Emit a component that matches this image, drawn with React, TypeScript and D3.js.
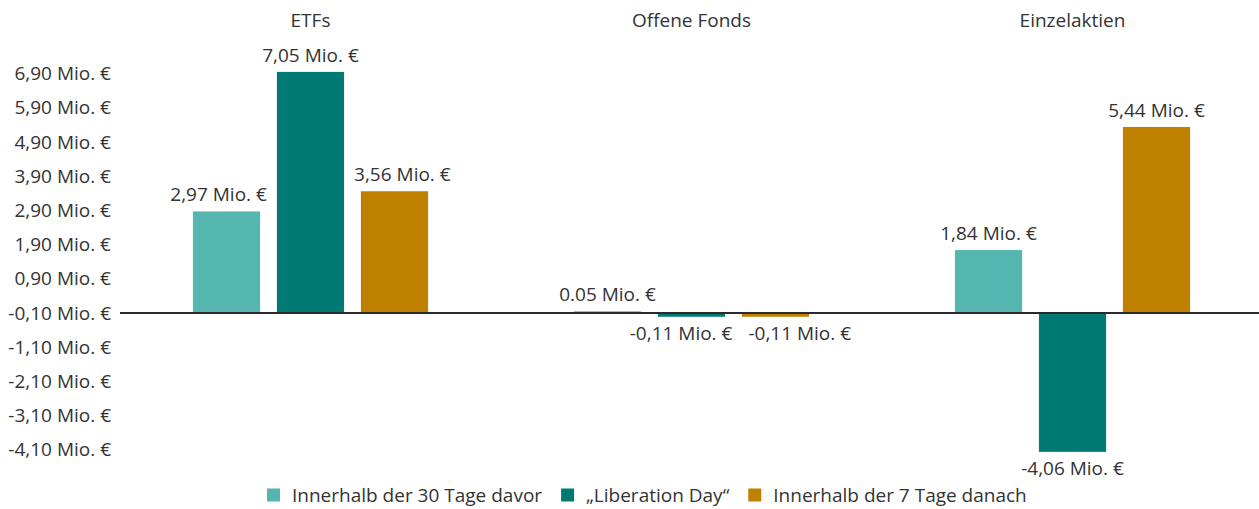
import React, { useEffect, useRef } from "react";
import * as d3 from "d3";

// Fund flow categories and the three observation windows
const categories = ["ETFs", "Offene Fonds", "Einzelaktien"];
const seriesNames = [
  "Innerhalb der 30 Tage davor",
  "\u201ELiberation Day\u201C",
  "Innerhalb der 7 Tage danach",
];
const seriesColors = ["#55B6B0", "#007A73", "#BF8000"];

// Net flows in Mio. € per category
const before30 = [2.97, 0.05, 1.84];
const liberationDay = [7.05, -0.11, -4.06];
const after7 = [3.56, -0.11, 5.44];

// Value labels as printed on the bars
const before30Labels = ["2,97 Mio. €", "0.05 Mio. €", "1,84 Mio. €"];
const liberationDayLabels = ["7,05 Mio. €", "-0,11 Mio. €", "-4,06 Mio. €"];
const after7Labels = ["3,56 Mio. €", "-0,11 Mio. €", "5,44 Mio. €"];

// Y-axis gridpoints and their printed labels
const yTickValues = [-4, -3, -2, -1, 0, 1, 2, 3, 4, 5, 6, 7];
const yTickLabels = [
  "-4,10 Mio. €",
  "-3,10 Mio. €",
  "-2,10 Mio. €",
  "-1,10 Mio. €",
  "-0,10 Mio. €",
  "0,90 Mio. €",
  "1,90 Mio. €",
  "2,90 Mio. €",
  "3,90 Mio. €",
  "4,90 Mio. €",
  "5,90 Mio. €",
  "6,90 Mio. €",
];

const W = 1259;
const H = 509;
const FONT = "'Open Sans', sans-serif";
const FS = 19;
const TEXT = "#333333";

export default function App() {
  const ref = useRef<SVGSVGElement>(null);

  useEffect(() => {
    const svg = d3.select(ref.current as SVGSVGElement);
    svg.selectAll("*").remove();

    const seriesValues = [before30, liberationDay, after7];
    const seriesLabels = [before30Labels, liberationDayLabels, after7Labels];

    const plotLeft = 120;
    const x0 = d3.scaleBand<string>().domain(categories).range([plotLeft, 1263]);
    const x1 = d3
      .scaleBand<string>()
      .domain(seriesNames)
      .range([64.5, 316.5])
      .paddingInner(0.2)
      .paddingOuter(0.1);
    const y = d3.scaleLinear().domain([-5, 8]).range([484, 39.4]);

    const root = svg
      .append("g")
      .attr("font-family", FONT)
      .attr("font-size", FS)
      .attr("fill", TEXT);

    // Y axis labels
    const yAxis = d3
      .axisLeft(y)
      .tickValues(yTickValues)
      .tickSize(0)
      .tickPadding(0)
      .tickFormat((_d, i) => yTickLabels[i]);
    const ga = root.append("g").attr("transform", `translate(111,0)`).call(yAxis);
    ga.select(".domain").remove();
    ga.selectAll("text")
      .attr("font-family", FONT)
      .attr("font-size", FS)
      .attr("fill", TEXT);

    // Category titles
    root
      .selectAll("text.cat")
      .data(categories)
      .join("text")
      .attr("class", "cat")
      .attr("x", (d) => (x0(d) as number) + x0.bandwidth() / 2)
      .attr("y", 27)
      .attr("text-anchor", "middle")
      .text((d) => d);

    // Bars
    type Item = { cat: string; ci: number; si: number; v: number; label: string };
    const items: Item[] = [];
    categories.forEach((c, ci) =>
      seriesNames.forEach((s, si) =>
        items.push({ cat: c, ci, si, v: seriesValues[si][ci], label: seriesLabels[si][ci] })
      )
    );

    const bw = x1.bandwidth();
    const barX = (d: Item) => (x0(d.cat) as number) + (x1(seriesNames[d.si]) as number);
    const barTop = (d: Item) => y(Math.max(0, d.v));
    const barBottom = (d: Item) => y(Math.min(0, d.v));
    const labelY = (d: Item) => (d.v >= 0 ? y(d.v) - 10 : y(d.v) + 23);

    root
      .append("g")
      .selectAll("rect")
      .data(items)
      .join("rect")
      .attr("x", barX)
      .attr("width", bw)
      .attr("y", barTop)
      .attr("height", (d) => barBottom(d) - barTop(d))
      .attr("fill", (d) => seriesColors[d.si]);

    // Zero line
    root
      .append("line")
      .attr("x1", plotLeft)
      .attr("x2", W)
      .attr("y1", y(0))
      .attr("y2", y(0))
      .attr("stroke", "#2b2b2b")
      .attr("stroke-width", 2);

    // Value labels: kept clear of neighbouring bars and of each other
    const lbl = root
      .append("g")
      .selectAll("text")
      .data(items)
      .join("text")
      .attr("text-anchor", "middle")
      .attr("x", (d) => barX(d) + bw / 2)
      .attr("y", labelY)
      .text((d) => d.label);

    const widths = new Map<Item, number>();
    lbl.each(function (d) {
      widths.set(d, (this as SVGTextElement).getComputedTextLength());
    });
    const centers = new Map<Item, number>();
    items.forEach((d) => centers.set(d, barX(d) + bw / 2));

    const pad = 10;
    items.forEach((d) => {
      const top = labelY(d) - FS * 0.75;
      const bottom = labelY(d) + FS * 0.05;
      const w = widths.get(d)!;
      items
        .filter((o) => o.cat === d.cat && o !== d)
        .forEach((o) => {
          if (bottom < barTop(o) || top > barBottom(o)) return;
          const c = centers.get(d)!;
          const left = c - w / 2;
          const right = c + w / 2;
          const bl = barX(o);
          const br = bl + bw;
          if (right + pad <= bl || left - pad >= br) return;
          if (c < bl + bw / 2) centers.set(d, bl - pad - w / 2);
          else centers.set(d, br + pad + w / 2);
        });
    });

    const gap = 16;
    categories.forEach((c) => {
      const grp = items.filter((d) => d.cat === c).sort((a, b) => a.si - b.si);
      for (let k = 1; k < grp.length; k++) {
        const a = grp[k - 1];
        const b = grp[k];
        if (Math.abs(labelY(a) - labelY(b)) >= FS) continue;
        const need = (widths.get(a)! + widths.get(b)!) / 2 + gap;
        const have = centers.get(b)! - centers.get(a)!;
        if (have < need) {
          const shift = (need - have) / 2;
          centers.set(a, centers.get(a)! - shift * 0.6);
          centers.set(b, centers.get(b)! + shift * 1.4);
        }
      }
    });
    lbl.attr("x", (d) => centers.get(d)!);

    // Legend
    const legend = root.append("g").attr("transform", "translate(267,495)");
    let lx = 0;
    seriesNames.forEach((s, i) => {
      legend
        .append("rect")
        .attr("x", lx)
        .attr("y", -6.5)
        .attr("width", 13)
        .attr("height", 13)
        .attr("fill", seriesColors[i]);
      const t = legend
        .append("text")
        .attr("x", lx + 25)
        .attr("y", 0)
        .attr("dy", "0.35em")
        .text(s);
      const tw = (t.node() as SVGTextElement).getComputedTextLength();
      lx += 25 + tw + 19;
    });
  }, []);

  return (
    <svg
      ref={ref}
      width={W}
      height={H}
      style={{ position: "absolute", left: 0, top: 0, background: "#ffffff" }}
    />
  );
}
